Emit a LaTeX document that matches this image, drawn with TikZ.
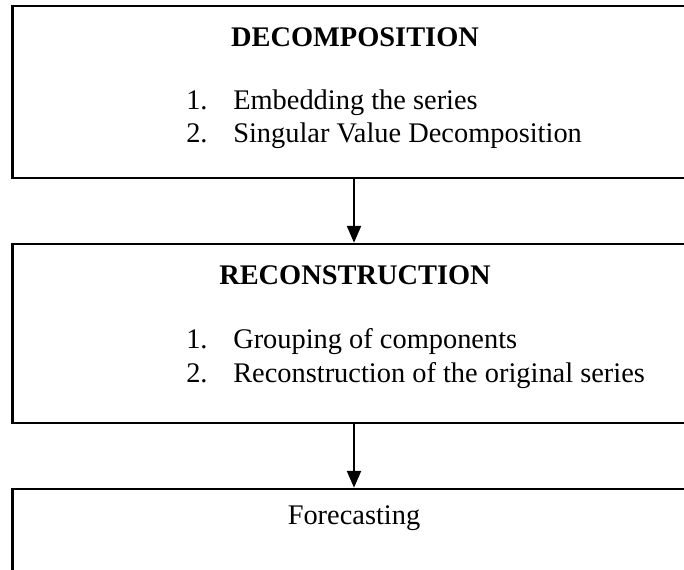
\documentclass[tikz,border=0pt]{standalone}
\usepackage{fontspec}
\setmainfont{Liberation Serif}
\usetikzlibrary{arrows.meta}

\begin{document}
\begin{tikzpicture}[x=0.5pt, y=-0.5pt, >={Triangle[width=7pt,length=8.5pt]}, line width=1.25pt,
		every node/.style={font=\fontsize{14.2}{17}\selectfont, inner sep=0pt},
		stagebox/.style={draw, rectangle, minimum width=341.5pt},
		heading/.style={font=\fontsize{14.2}{17}\selectfont\bfseries},
		itemnum/.style={anchor=base west},
		itemtext/.style={anchor=base west}]
	% 1. 画布与裁切
	\useasboundingbox (0,0) rectangle (684,569);
	\clip (0,0) rectangle (684,569);
	
	% 2. 三个阶段框 (右侧与底部超出画面)
	\node[stagebox, minimum height=86pt] (dec) at (354,92) {};
	\node[stagebox, minimum height=89.5pt] (rec) at (354,333.5) {};
	\node[stagebox, minimum height=60pt] (fore) at (354,549) {};
	
	% 3. 分解
	\node[heading] (dectitle) at (355,37) {DECOMPOSITION};
	\node[itemnum] (dec1n) at (185,109) {1.};
	\node[itemtext] (dec1) at (232,109) {Embedding the series};
	\node[itemnum] (dec2n) at (185,142) {2.};
	\node[itemtext] (dec2) at (232,142) {Singular Value Decomposition};
	
	% 4. 重构
	\node[heading] (rectitle) at (355,275) {RECONSTRUCTION};
	\node[itemnum] (rec1n) at (185,348) {1.};
	\node[itemtext] (rec1) at (232,348) {Grouping of components};
	\node[itemnum] (rec2n) at (185,382) {2.};
	\node[itemtext] (rec2) at (232,382) {Reconstruction of the original series};
	
	% 5. 预测
	\node (foretitle) at (354,518) {Forecasting};
	
	% 6. 箭头
	\draw[->] (dec.south) -- (rec.north);
	\draw[->] (rec.south) -- (fore.north);
\end{tikzpicture}
\end{document}
